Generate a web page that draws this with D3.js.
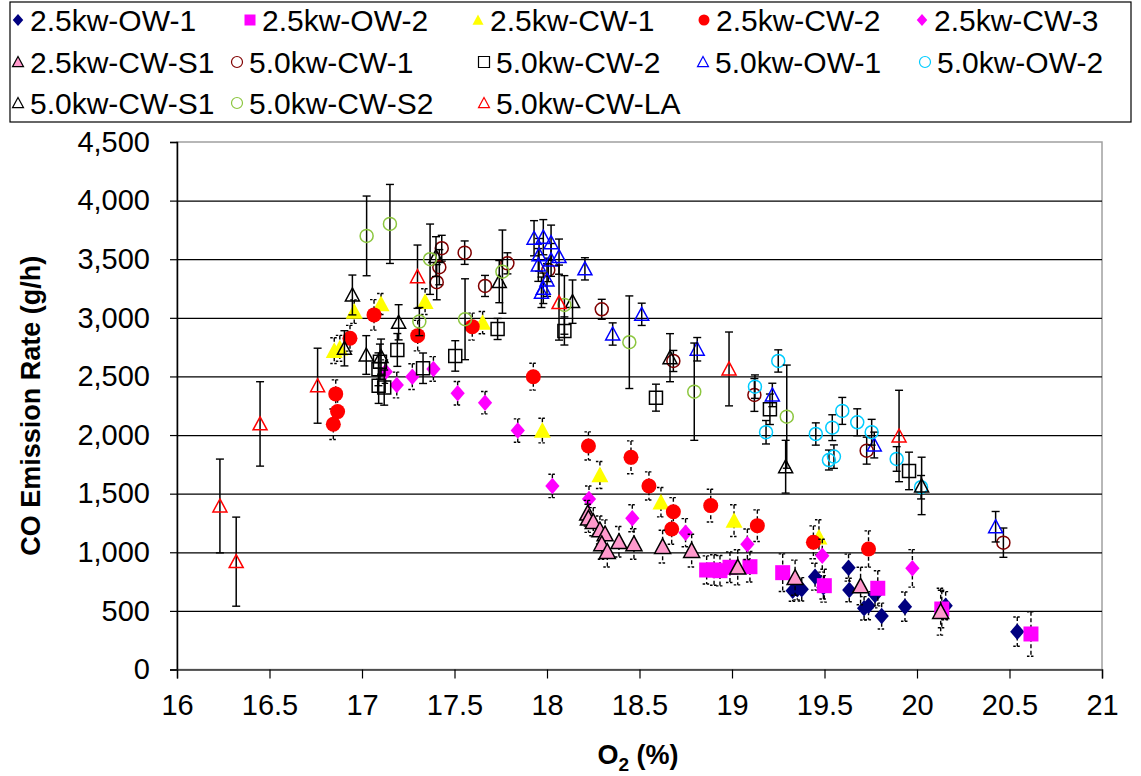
<!DOCTYPE html>
<html><head><meta charset="utf-8">
<script src="https://cdn.jsdelivr.net/npm/d3@7"></script>
<style>body{margin:0;background:#fff} svg{display:block} text{font-family:"Liberation Sans",Arial,sans-serif}</style>
</head><body><svg id="c" width="1141" height="776"></svg>
<script>
// ---------- data ----------
const xTicks = [16, 16.5, 17, 17.5, 18, 18.5, 19, 19.5, 20, 20.5, 21];
const yTicks = [0, 500, 1000, 1500, 2000, 2500, 3000, 3500, 4000, 4500];
const seriesNames = ["2.5kw-OW-1","2.5kw-OW-2","2.5kw-CW-1","2.5kw-CW-2","2.5kw-CW-3","2.5kw-CW-S1",
  "5.0kw-CW-1","5.0kw-CW-2","5.0kw-OW-1","5.0kw-OW-2","5.0kw-CW-S1","5.0kw-CW-S2","5.0kw-CW-LA"];

const ow1_25_x = [19.449,19.328,19.353,19.377,19.494,19.63,19.634,19.714,19.738,19.773,19.809,19.935,20.155,20.542];
const ow1_25_y = [792,672,684,684,701,869,678,522,544,636,456,536,544,323];
const ow1_25_e = [115,90,90,100,100,115,100,100,120,110,110,125,120,125];

const ow2_25_x = [18.863,18.903,18.935,18.989,19.097,19.274,19.499,19.788,20.134,20.616];
const ow2_25_y = [849,849,843,872,877,826,715,693,516,303];
const ow2_25_e = [120,130,130,130,130,160,140,150,160,190];

const cw1_25_x = [16.85,16.88,16.958,17.103,17.341,17.652,17.975,18.286,18.616,19.011,19.47];
const cw1_25_y = [2720,2740,3053,3118,3138,2959,2038,1659,1427,1270,1128];
const cw1_25_e = [110,110,100,90,110,95,105,115,125,135,150];

const cw2_25_x = [16.858,16.868,16.845,16.935,17.065,17.301,17.596,17.926,18.224,18.454,18.551,18.683,18.674,18.885,19.137,19.44,19.738];
const cw2_25_y = [2351,2200,2092,2826,3025,2848,2925,2498,1907,1810,1566,1346,1199,1398,1227,1085,1028];
const cw2_25_e = [120,110,130,110,130,130,115,115,120,140,120,120,130,140,135,140,155];

const cw3_25_x = [17.128,17.188,17.272,17.386,17.517,17.665,17.842,18.029,18.227,18.461,18.749,19.083,19.488,19.975];
const cw3_25_y = [2541,2427,2498,2564,2357,2276,2038,1566,1455,1290,1167,1068,971,863];
const cw3_25_e = [100,110,110,105,100,95,100,100,110,115,120,130,140,160];

const cws1_25_x = [18.22,18.224,18.25,18.286,18.314,18.296,18.326,18.389,18.47,18.625,18.782,19.031,19.341,19.695,20.128];
const cws1_25_y = [1333,1290,1261,1190,1156,1071,1005,1090,1071,1048,1014,872,783,712,493];
const cws1_25_e = [110,120,120,120,120,130,130,130,130,140,140,150,150,160,200];

const cw1_50_x = [17.431,17.418,17.404,17.555,17.665,17.786,18.007,18.296,18.683,19.121,19.728,20.467];
const cw1_50_y = [3594,3432,3304,3556,3272,3465,3409,3073,2632,2342,1867,1082];
const cw1_50_e = [110,150,150,100,90,90,100,85,90,140,115,125];

const cw2_50_x = [17.097,17.089,17.09,17.12,17.191,17.33,17.504,17.733,18.094,18.589,19.205,19.957];
const cw2_50_y = [2626,2561,2420,2405,2726,2570,2675,2905,2888,2319,2220,1694];
const cw2_50_e = [150,140,150,150,140,130,130,90,120,115,130,160];

const ow1_50_x = [17.93,17.98,18.022,17.957,17.953,18.022,18.065,18.0,17.98,17.97,18.205,18.355,18.512,18.812,19.218,19.769,20.425];
const ow1_50_y = [3679,3688,3641,3537,3451,3494,3522,3323,3252,3218,3418,2862,3030,2732,2342,1915,1218];
const ow1_50_e = [150,150,150,140,140,140,150,140,130,130,95,95,95,100,100,110,130];

const ow2_50_x = [19.124,19.184,19.25,19.453,19.524,19.551,19.542,19.596,19.677,19.755,19.89,20.022];
const ow2_50_y = [2413,2024,2632,2009,1787,1816,2063,2206,2109,2024,1796,1555];
const ow2_50_e = [100,100,95,95,85,100,110,115,115,110,105,100];

const cws1_50_x = [16.948,16.905,17.023,17.103,17.198,17.4,17.742,18.138,18.665,19.29,20.025];
const cws1_50_y = [3195,2740,2683,2669,2962,3522,3309,3138,2660,1730,1566];
const cws1_50_e = [170,150,165,150,150,170,180,185,205,225,245];

const cws2_50_x = [17.025,17.151,17.368,17.31,17.557,17.759,18.094,18.445,18.796,19.296];
const cws2_50_y = [3699,3801,3500,2968,2988,3394,3110,2792,2370,2157];
const cws2_50_e = [340,337,300,120,345,355,250,395,415,440];

const cwla_50_x = [16.232,16.32,16.449,16.76,17.30,18.065,18.984,19.903];
const cwla_50_y = [1395,920,2095,2421,3351,3130,2564,1992];
const cwla_50_e = [400,380,360,320,270,320,315,390];

// ---------- styles (separate from data) ----------
const styles = [
  {shape:"diamond", fill:"#000080", stroke:"#000080", sw:0, dash:true, size:15},
  {shape:"square", fill:"#ff00ff", stroke:"#ff00ff", sw:0, dash:true, size:15},
  {shape:"triangle", fill:"#ffff00", stroke:"#ffff00", sw:0, dash:true, size:17},
  {shape:"circle", fill:"#ff0000", stroke:"#ff0000", sw:0, dash:true, size:15},
  {shape:"diamond", fill:"#ff00ff", stroke:"#ff00ff", sw:0, dash:true, size:15},
  {shape:"triangle", fill:"#ff99cc", stroke:"#000000", sw:1.5, dash:true, size:16},
  {shape:"circle", fill:"none", stroke:"#800000", sw:1.5, dash:false, size:13},
  {shape:"square", fill:"none", stroke:"#000000", sw:1.5, dash:false, size:13},
  {shape:"triangle", fill:"none", stroke:"#0000ff", sw:1.5, dash:false, size:14},
  {shape:"circle", fill:"none", stroke:"#00ccff", sw:1.5, dash:false, size:13},
  {shape:"triangle", fill:"none", stroke:"#000000", sw:1.5, dash:false, size:14},
  {shape:"circle", fill:"none", stroke:"#8cc63f", sw:1.5, dash:false, size:13},
  {shape:"triangle", fill:"none", stroke:"#ff0000", sw:1.5, dash:false, size:14}
];
const dataSets = [
  [ow1_25_x,ow1_25_y,ow1_25_e],[ow2_25_x,ow2_25_y,ow2_25_e],[cw1_25_x,cw1_25_y,cw1_25_e],
  [cw2_25_x,cw2_25_y,cw2_25_e],[cw3_25_x,cw3_25_y,cw3_25_e],[cws1_25_x,cws1_25_y,cws1_25_e],
  [cw1_50_x,cw1_50_y,cw1_50_e],[cw2_50_x,cw2_50_y,cw2_50_e],[ow1_50_x,ow1_50_y,ow1_50_e],
  [ow2_50_x,ow2_50_y,ow2_50_e],[cws1_50_x,cws1_50_y,cws1_50_e],[cws2_50_x,cws2_50_y,cws2_50_e],
  [cwla_50_x,cwla_50_y,cwla_50_e]
];

// ---------- chart ----------
const svg = d3.select("#c");
const L = 177, R = 1102, T = 142, B = 669.5;
const x = d3.scaleLinear().domain([16, 21]).range([L, R]);
const y = d3.scaleLinear().domain([0, 4500]).range([B, T]);

svg.append("rect").attr("x", L).attr("y", T).attr("width", R - L).attr("height", B - T)
  .attr("fill", "none").attr("stroke", "#a0a0a0").attr("stroke-width", 1.5);

const grid = svg.append("g").attr("transform", `translate(${L},0)`)
  .call(d3.axisLeft(y).tickValues(yTicks.filter(v => v > 0 && v < 4500)).tickSize(-(R - L)).tickFormat(""));
grid.select(".domain").remove();
grid.selectAll("line").attr("stroke", "#000").attr("stroke-width", 1.2);

const yAxis = svg.append("g").attr("transform", `translate(${L},0)`)
  .call(d3.axisLeft(y).tickValues(yTicks).tickSize(7).tickPadding(20).tickFormat(d3.format(",")));
yAxis.select(".domain").attr("stroke", "#000").attr("stroke-width", 1.5);
yAxis.selectAll("line").attr("stroke", "#000").attr("stroke-width", 1.2);
yAxis.selectAll("text").attr("font-size", 29).attr("fill", "#000")
  .attr("font-family", "'Liberation Sans', Arial, sans-serif");

const xAxis = svg.append("g").attr("transform", `translate(0,${B})`)
  .call(d3.axisBottom(x).tickValues(xTicks).tickSize(9).tickPadding(16).tickFormat(d => String(d)));
xAxis.select(".domain").attr("stroke", "#333").attr("stroke-width", 1.5);
xAxis.selectAll("line").attr("stroke", "#000").attr("stroke-width", 1.2);
xAxis.selectAll("text").attr("font-size", 29).attr("fill", "#000")
  .attr("font-family", "'Liberation Sans', Arial, sans-serif");

svg.append("text").attr("transform", `translate(40,${(T + B) / 2}) rotate(-90)`)
  .attr("text-anchor", "middle").attr("font-size", 27).attr("font-weight", "bold")
  .text("CO Emission Rate (g/h)");
const xt = svg.append("text").attr("x", 638).attr("y", 764).attr("text-anchor", "middle")
  .attr("font-size", 27).attr("font-weight", "bold");
xt.append("tspan").text("O");
xt.append("tspan").attr("font-size", 19).attr("dy", 7).text("2");
xt.append("tspan").attr("dy", -7).text(" (%)");

function pathFor(shape, s) {
  const h = s / 2;
  if (shape === "circle") return `M${-h},0A${h},${h} 0 1,0 ${h},0A${h},${h} 0 1,0 ${-h},0Z`;
  if (shape === "square") return `M${-h},${-h}H${h}V${h}H${-h}Z`;
  if (shape === "diamond") return `M0,${-h * 1.1}L${h * 0.95},0L0,${h * 1.1}L${-h * 0.95},0Z`;
  if (shape === "triangle") return `M0,${-h}L${h},${h * 0.85}L${-h},${h * 0.85}Z`;
}

const plot = svg.append("g");
dataSets.forEach((ds, i) => {
  const st = styles[i];
  const pts = ds[0].map((v, j) => ({x: v, y: ds[1][j], e: ds[2][j]}));
  const g = plot.append("g");
  const eb = g.selectAll("g.eb").data(pts).join("g").attr("class", "eb");
  const dash = st.dash ? "4,2.5" : null;
  const sw = st.dash ? 1.4 : 1.5;
  eb.append("line").attr("x1", d => x(d.x)).attr("x2", d => x(d.x))
    .attr("y1", d => y(d.y + d.e)).attr("y2", d => y(Math.max(0, d.y - d.e)))
    .attr("stroke", "#000").attr("stroke-width", sw).attr("stroke-dasharray", dash);
  [1, -1].forEach(sgn => {
    eb.append("line").attr("x1", d => x(d.x) - 4).attr("x2", d => x(d.x) + 4)
      .attr("y1", d => y(d.y + sgn * d.e)).attr("y2", d => y(d.y + sgn * d.e))
      .attr("stroke", "#000").attr("stroke-width", 1.4).attr("stroke-dasharray", st.dash ? "2.5,1.5" : null);
  });
  g.selectAll("path.m").data(pts).join("path").attr("class", "m")
    .attr("transform", d => `translate(${x(d.x)},${y(d.y)})`)
    .attr("d", pathFor(st.shape, st.size))
    .attr("fill", st.fill).attr("stroke", st.sw ? st.stroke : "none").attr("stroke-width", st.sw);
});

// legend
const leg = svg.append("g");
leg.append("rect").attr("x", 10).attr("y", 2).attr("width", 1121).attr("height", 120)
  .attr("fill", "#fff").attr("stroke", "#000").attr("stroke-width", 1.2);
const legPos = [[18,20],[250,20],[478,20],[704,20],[922,20],
                [18,62],[237,62],[484,62],[703,62],[925,62],
                [18,103],[237,103],[484,103]];
seriesNames.forEach((n, i) => {
  const st = styles[i];
  const [lx, ly] = legPos[i];
  leg.append("path").attr("transform", `translate(${lx},${ly})`)
    .attr("d", pathFor(st.shape, 11))
    .attr("fill", st.fill).attr("stroke", st.sw ? st.stroke : "none").attr("stroke-width", st.sw ? 1.2 : 0);
  leg.append("text").attr("x", lx + 12).attr("y", ly).attr("dy", "0.36em")
    .attr("font-size", 30).text(n);
});
</script></body></html>
